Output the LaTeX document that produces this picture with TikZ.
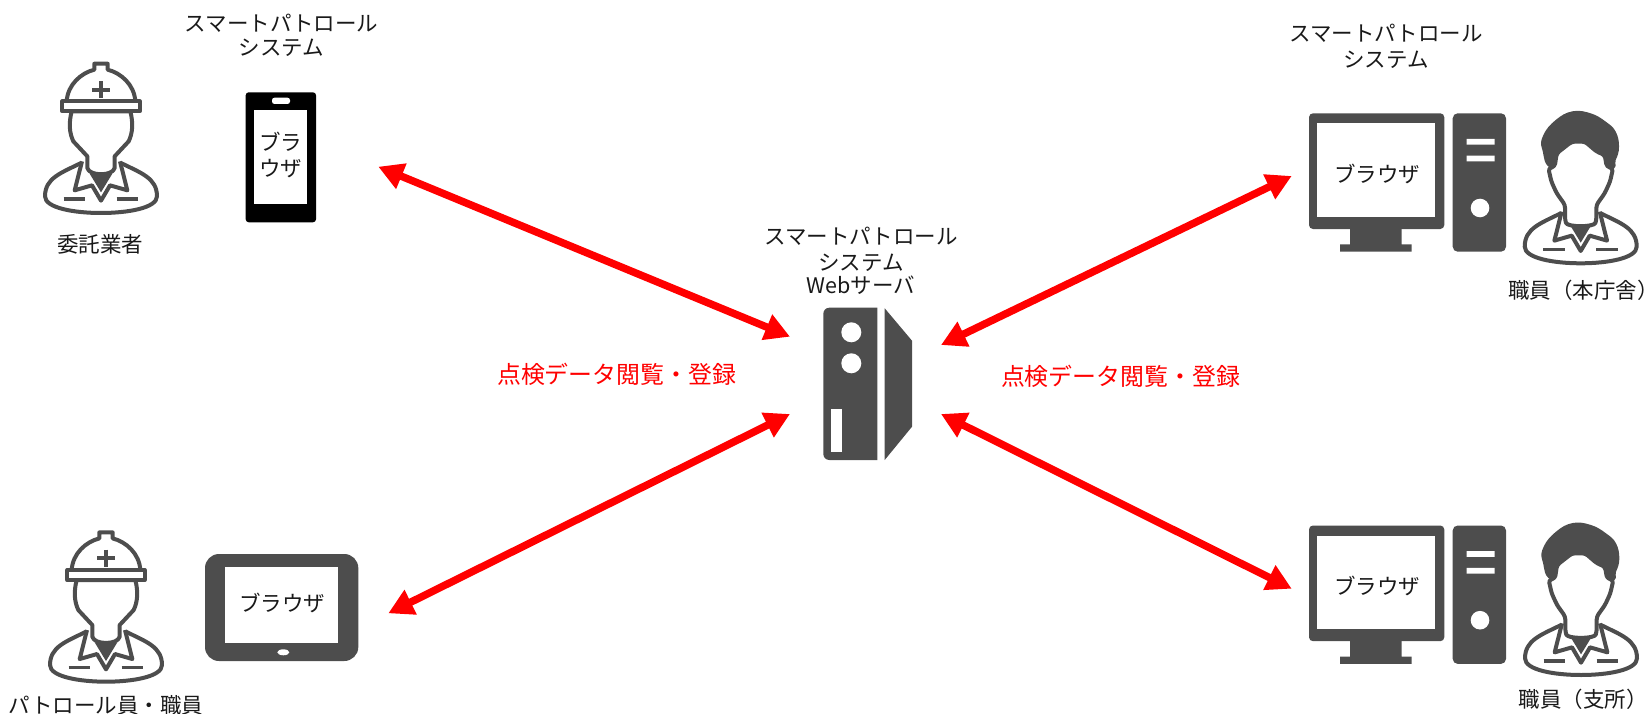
\documentclass[tikz,border=0pt]{standalone}
\usepackage{fontspec}
\setmainfont{Noto Sans CJK JP}
\usetikzlibrary{arrows.meta}
\definecolor{icongray}{HTML}{4D4D4D}
\tikzstyle{caption}=[inner sep=0pt, align=center, text=black!90,
  font=\fontsize{21.5}{26}\selectfont]
\tikzstyle{redcaption}=[caption, text=red, font=\fontsize{23.9}{28}\selectfont]
\tikzstyle{icon}=[draw=icongray, fill=white, line width=4pt, line join=round]
\tikzstyle{line}=[draw, red, line width=7.5pt,
  {Triangle[length=25pt,width=26pt]}-{Triangle[length=25pt,width=26pt]}]
% shoulders, collar and tie, the origin is the bottom centre
\newcommand{\bust}{
  \path [icon] (-60,-150) .. controls (-120,-120) and (-168,-105) .. (-168,-50)
    .. controls (-168,-15) and (-80,0) .. (0,0)
    .. controls (80,0) and (168,-15) .. (168,-50)
    .. controls (168,-105) and (120,-120) .. (60,-150);
  \path [icon] (-57,-155) -- (-79,-68) -- (-27,-83) -- (0,-37) -- (27,-83)
    -- (79,-68) -- (57,-155);
  \fill [icongray] (-34,-118) -- (0,-62) -- (34,-118) -- cycle;
  \draw [icongray, line width=3.5pt] (-112,-42) -- (-47,-42) (47,-42) -- (112,-42);
}
\newcommand{\worker}[2]{
  \begin{scope}[shift={(#1,#2)},scale=0.3333]
    \bust
    \path [icon] (-41,-135) -- (-41,-170) -- (-83,-215)
      .. controls (-95,-240) and (-97,-270) .. (-88,-305) -- (88,-305)
      .. controls (97,-270) and (95,-240) .. (83,-215) -- (41,-170) -- (41,-135)
      .. controls (35,-110) and (-35,-110) .. (-41,-135) -- cycle;
    \path [icon] (-103,-335) .. controls (-100,-385) and (-60,-420) .. (-20,-430)
      -- (-20,-448) -- (20,-448) -- (20,-430)
      .. controls (60,-420) and (100,-385) .. (103,-335) -- cycle;
    \path [icon] (-116,-335) rectangle (116,-305);
    \draw [icongray, line width=4pt] (-26,-370) -- (26,-370) (0,-396) -- (0,-344);
  \end{scope}
}
\newcommand{\staff}[2]{
  \begin{scope}[shift={(#1,#2)},scale=0.3333]
    \bust
    \fill [icongray] plot [smooth cycle, tension=0.7] coordinates {(-77,-280)
      (-115,-340) (-112,-385) (-75,-430) (-25,-456) (30,-450) (75,-425)
      (105,-395) (115,-350) (105,-310) (83,-280)};
    \path [icon, rounded corners=3pt] (-47,-130) -- (-47,-175) -- (-72,-210)
      -- (-88,-245) -- (-97,-285) -- (-78,-290) -- (-72,-330) -- (-27,-365)
      -- (13,-365) -- (48,-335) -- (72,-325) -- (78,-290) -- (97,-285)
      -- (88,-245) -- (72,-210) -- (47,-175) -- (47,-130)
      .. controls (40,-108) and (-40,-108) .. (-47,-130) -- cycle;
  \end{scope}
}
\newcommand{\desktop}[3]{
  \begin{scope}[shift={(#1,#2)}]
    \fill [icongray, rounded corners=4pt] (0,0) rectangle (135.3,115.7);
    \fill [icongray] (41,115) rectangle (92.7,131) (31,131) rectangle (102.7,138.4);
    \fill [white] (7.7,10) rectangle (126,103.4);
    \node (#3) [caption] at (68,60.5) {ブラウザ};
    \fill [icongray, rounded corners=5pt] (143.7,0) rectangle (197,138.4);
    \fill [white] (157.7,25.7) rectangle (185.7,31.4) (157.7,42.4) rectangle (185.7,48);
    \fill [white] (171,94.7) circle (9.3);
  \end{scope}
}
\begin{document}
\begin{tikzpicture}[x=1pt,y=-1pt]
  \useasboundingbox (0,0) rectangle (1646,714);

  % Draw diagram elements
  \worker{101}{213}
  \worker{106}{681.7}
  \staff{1580.7}{263.3}
  \staff{1581}{675}
  \desktop{1309}{113.3}{pcmain}
  \desktop{1309}{525.5}{pcbranch}

  % phone
  \fill [black, rounded corners=3pt] (245.7,92.3) rectangle (316,222.3);
  \fill [white, rounded corners=2.5pt] (272,97.7) rectangle (290,104);
  \fill [white] (254.3,110) rectangle (307.3,204.3);
  \node (phone) [caption] at (280.8,155) {ブラ\\ウザ};

  % tablet
  \fill [icongray, rounded corners=14pt] (205,554) rectangle (358.3,661);
  \fill [white] (225,567.3) rectangle (338.3,642.7);
  \node (tablet) [caption] at (282,602.5) {ブラウザ};
  \fill [white] (283.3,652.3) ellipse (6 and 3);

  % server
  \fill [icongray] (877.3,307.7) [rounded corners=6pt] -- (823.3,307.7)
    -- (823.3,460) [sharp corners] -- (877.3,460) -- cycle;
  \fill [icongray] (884.7,308.3) -- (912,340.7) -- (912,426.7) -- (884.7,460) -- cycle;
  \fill [white] (851.3,332.3) circle (10) (851.3,363.3) circle (10);
  \fill [white] (831.3,409.3) rectangle (842,452.3);

  \node (titlephone) [caption] at (281.5,35) {スマートパトロール\\[-2pt]システム};
  \node (titlepc) [caption] at (1386,46.5) {スマートパトロール\\システム};
  \node (titleserver) [caption] at (861,260.5) {スマートパトロール\\システム\\[-3pt]Webサーバ};
  \node (contractor) [caption] at (100,244) {委託業者};
  \node (patrol) [caption] at (106,705) {パトロール員・職員};
  \node (mainoffice) [caption, anchor=west] at (1508,290)
    {職員（本庁舎\makebox[0.44em][l]{）}};
  \node (branch) [caption] at (1583,699) {職員（支所）};
  \node (viewleft) [redcaption] at (616.6,374) {点検データ閲覧・登録};
  \node (viewright) [redcaption] at (1120.5,376) {点検データ閲覧・登録};

  \coordinate (phoneend) at (378.3,166.7);
  \coordinate (tabletend) at (388.3,613.3);
  \coordinate (pcmainend) at (1291.7,176);
  \coordinate (pcbranchend) at (1291.7,588.7);
  \coordinate (serverul) at (790,336.7);
  \coordinate (serverll) at (790,414);
  \coordinate (serverur) at (941,345);
  \coordinate (serverlr) at (941,414);
  \path [line] (phoneend) -- (serverul);
  \path [line] (tabletend) -- (serverll);
  \path [line] (pcmainend) -- (serverur);
  \path [line] (pcbranchend) -- (serverlr);
\end{tikzpicture}
\end{document}
